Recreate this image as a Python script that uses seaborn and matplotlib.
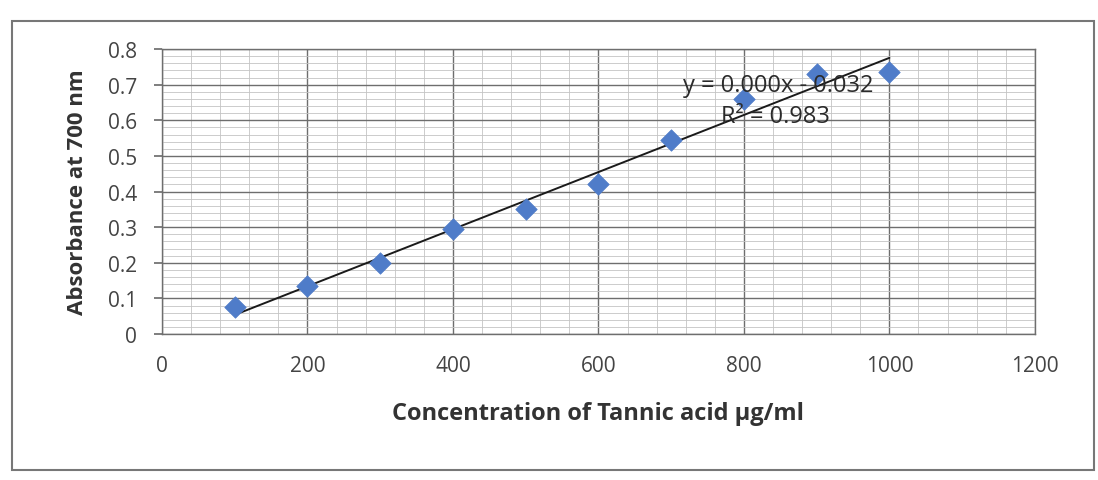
import numpy as np
import pandas as pd
import seaborn as sns
import matplotlib
matplotlib.use("Agg")
import matplotlib.pyplot as plt
from matplotlib.ticker import MultipleLocator
from matplotlib.patches import Rectangle

# Data
concentration = [100, 200, 300, 400, 500, 600, 700, 800, 900, 1000]
absorbance = [0.075, 0.135, 0.200, 0.295, 0.350, 0.420, 0.545, 0.660, 0.730, 0.735]
x_ticks = [0, 200, 400, 600, 800, 1000, 1200]
y_ticks = [0, 0.1, 0.2, 0.3, 0.4, 0.5, 0.6, 0.7, 0.8]
y_tick_labels = ["0", "0.1", "0.2", "0.3", "0.4", "0.5", "0.6", "0.7", "0.8"]
eq_text = "y = 0.000x - 0.032"
r2_text = "R² = 0.983"
x_label = "Concentration of Tannic acid \u00b5g/ml"
y_label = "Absorbance at 700 nm"

df = pd.DataFrame({"conc": concentration, "abs": absorbance})

sns.set_theme(style="white")
plt.rcParams["font.family"] = ["Open Sans", "DejaVu Sans"]

fig = plt.figure(figsize=(10.98, 4.81), dpi=100)
ax = fig.add_axes([0.1475, 0.3035, 0.795, 0.5925])

# Grid
ax.set_xlim(0, 1200)
ax.set_ylim(0, 0.8)
ax.xaxis.set_major_locator(MultipleLocator(200))
ax.xaxis.set_minor_locator(MultipleLocator(40))
ax.yaxis.set_major_locator(MultipleLocator(0.1))
ax.yaxis.set_minor_locator(MultipleLocator(0.02))
ax.grid(which="major", color="#6e6e6e", linewidth=1.0)
ax.grid(which="minor", color="#c4c4c4", linewidth=0.6)
ax.set_axisbelow(True)

# Trendline (linear fit)
slope, intercept = np.polyfit(df["conc"], df["abs"], 1)
xs = np.array([min(concentration), max(concentration)])
sns.lineplot(x=xs, y=slope * xs + intercept, ax=ax, color="#1a1a1a", linewidth=1.4, zorder=3)

# Points
sns.scatterplot(data=df, x="conc", y="abs", ax=ax, marker="D", s=120,
                color="#4f7cc9", edgecolor="#4f7cc9", linewidth=0.5, zorder=4)

ax.text(847, 0.700, eq_text, fontsize=17, color="#2a2a2a", ha="center", va="center", zorder=5)
ax.text(843, 0.612, r2_text, fontsize=17, color="#2a2a2a", ha="center", va="center", zorder=5)

ax.set_xticks(x_ticks)
ax.set_xticklabels([str(t) for t in x_ticks], fontsize=15, color="#444444")
ax.set_yticks(y_ticks)
ax.set_yticklabels(y_tick_labels, fontsize=15, color="#444444")
ax.tick_params(axis="x", which="major", pad=15, length=0)
ax.tick_params(axis="y", which="major", pad=12, length=6, color="#6e6e6e", direction="out", left=True)
ax.tick_params(which="minor", length=0)

ax.set_xlabel(x_label, fontsize=17, fontweight="bold", color="#333333", labelpad=18)
ax.set_ylabel(y_label, fontsize=16, fontweight="bold", color="#333333", labelpad=14)

for s in ax.spines.values():
    s.set_color("#6e6e6e")
    s.set_linewidth(1.0)

# Outer chart border
fig.patches.append(Rectangle((0.011, 0.02), 0.985, 0.935, transform=fig.transFigure,
                             fill=False, edgecolor="#777777", linewidth=1.5))

fig.savefig("out.png", dpi=100)
